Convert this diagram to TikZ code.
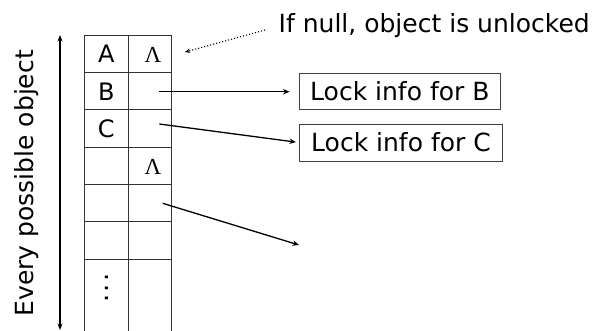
\documentclass[tikz,border=0pt]{standalone}
\usepackage{fontspec}
\setmainfont{DejaVu Sans}
\newfontfamily\lamfont{Liberation Serif}
\usetikzlibrary{arrows.meta}
\begin{document}
\begin{tikzpicture}[x=1pt,y=-1pt,
  grid/.style={draw=black!80,line width=0.9pt},
  lbl/.style={inner sep=0pt,font=\fontsize{25}{30}\selectfont},
  cell/.style={inner sep=0pt,font=\fontsize{24}{28}\selectfont,anchor=base},
  nullp/.style={inner sep=0pt,font=\lamfont\fontsize{23}{26}\selectfont,anchor=base},
  infobox/.style={draw=black!75,line width=0.9pt,inner sep=0pt,
    font=\fontsize{25}{30}\selectfont},
  ptr/.style={-{Stealth[length=6.5pt,width=5.5pt]},line width=1.3pt},
  note/.style={-{Stealth[length=5pt,width=4.5pt]},line width=1.1pt,dotted}]
\useasboundingbox (0,0) rectangle (599,331);

% table of lock pointers, one row per object
\foreach \x in {84.3,128.3,171.7} \draw[grid] (\x,35) -- (\x,331);
\foreach \y in {35,72.33,109.67,147,184.33,221.67,259} \draw[grid] (84.3,\y) -- (171.7,\y);

\node[cell] (ka) at (106.3,63) {A};
\node[cell] (kb) at (106.3,100.2) {B};
\node[cell] (kc) at (106.3,137.5) {C};
\node[inner sep=0pt,font=\fontsize{26}{30}\selectfont,rotate=90] (kdots) at (106.5,288) {.\kern2pt.\kern2pt.};
\node[nullp] (na) at (153,62.7) {Λ};
\node[nullp] (nd) at (153,174.3) {Λ};

% side extent arrow and its label
\coordinate (top) at (60,35);
\coordinate (bot) at (60,330);
\draw[{Stealth[length=6.5pt,width=5pt]}-{Stealth[length=6.5pt,width=5pt]},line width=1.2pt] (top) -- (bot);
\node[lbl,rotate=90,anchor=base] (every) at (33.3,183.3) {Every possible object};

% note about null entries
\node[lbl,anchor=base west] (note) at (278.5,32.7) {If null, object is unlocked};
\coordinate (nstart) at (265,30);
\coordinate (nend) at (185,52);
\draw[note] (nstart) -- (nend);

% lock info records
\node[infobox,minimum width=201.7pt,minimum height=36pt] (lb) at (399.85,91.3) {Lock info for B};
\node[infobox,minimum width=203.4pt,minimum height=37pt] (lc) at (401,142.5) {Lock info for C};

% pointers out of the table
\coordinate (pb) at (159.3,91.7);
\coordinate (pc) at (159.3,124);
\coordinate (pe) at (162.7,203.3);
\coordinate (pend) at (299,245);
\draw[ptr,shorten >=9pt] (pb) -- (lb.west |- pb);
\draw[ptr,shorten >=3pt] (pc) -- (lc.west);
\draw[ptr] (pe) -- (pend);
\end{tikzpicture}
\end{document}
